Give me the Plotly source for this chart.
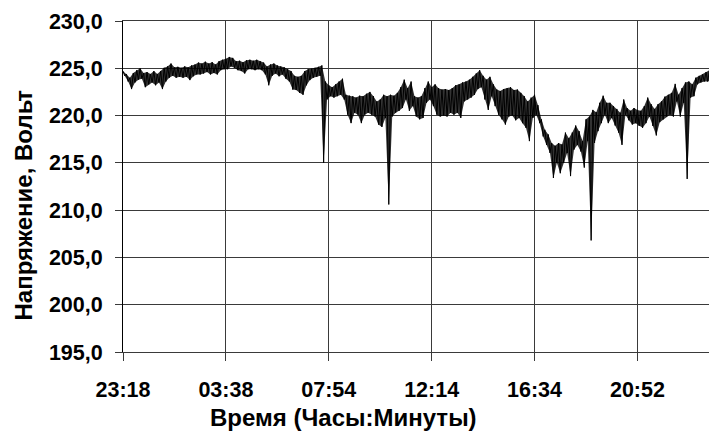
import plotly.graph_objects as go

# Tick labels of the time axis (category labels every 30 samples)
tick_labels = ["23:18", "03:38", "07:54", "12:14", "16:34", "20:52"]
tick_index = [0, 30, 60, 90, 120, 150]

# Voltage readings (V): upper and lower excursion of each sampling column
v_high = [
    224.7, 224.4, 224.0, 224.5, 224.8, 225.0, 224.5, 224.6, 224.4, 224.7,
    224.4, 224.7, 225.05, 225.2, 225.5, 225.1, 225.15, 225.05, 225.2, 225.1,
    225.3, 225.4, 225.6, 225.5, 225.7, 225.5, 225.65, 225.4, 225.75, 225.9,
    226.0, 226.2, 226.1, 225.75, 225.8, 225.65, 225.85, 225.9, 225.8, 225.9,
    225.75, 225.6, 225.2, 225.4, 225.5, 225.3, 225.2, 225.1, 224.9, 224.7,
    224.2, 224.1, 224.2, 224.7, 224.9, 224.95, 225.05, 225.15, 225.3, 223.6,
    223.2, 223.0, 223.3, 223.6, 223.9, 222.2, 222.1, 222.05, 221.9, 222.1,
    222.05, 222.3, 222.5, 222.05, 221.5, 221.7, 222.2, 222.05, 222.2, 222.1,
    222.4, 223.0, 223.8, 222.9, 223.6, 222.05, 221.9, 222.05, 222.9, 223.6,
    223.0, 223.3, 222.9, 222.75, 222.8, 222.7, 222.9, 223.2, 223.3, 223.5,
    223.6, 223.8, 224.1, 224.45, 224.8, 224.2, 223.8, 224.1, 223.3, 222.75,
    222.6, 222.8, 222.9, 223.0, 222.7, 222.75, 222.4, 222.05, 221.5, 221.9,
    222.2, 221.1, 219.6, 218.5, 218.0, 217.1, 216.8, 217.1, 216.95, 218.2,
    217.6, 218.2, 218.95, 218.35, 217.3, 219.6, 219.9, 220.6, 220.35, 221.35,
    222.1, 221.35, 221.35, 221.0, 220.7, 220.3, 221.7, 220.8, 220.5, 220.8,
    220.6, 220.5, 221.0, 221.9, 221.2, 220.7, 221.2, 221.5, 222.0, 222.2,
    222.4, 223.35, 222.2, 222.9, 223.5, 223.6, 223.3, 224.0, 224.2, 224.35,
    224.6, 224.8, 224.6, 224.35,
]
v_low = [
    224.2, 223.6, 222.8, 223.5, 223.8, 223.9, 223.0, 223.3, 223.5, 223.2,
    223.5, 222.8, 223.6, 224.0, 224.2, 224.0, 224.1, 224.0, 224.1, 223.75,
    224.15, 224.35, 224.35, 224.45, 224.6, 224.35, 224.5, 224.35, 224.8, 224.9,
    224.9, 225.2, 225.05, 224.8, 224.7, 224.45, 224.9, 224.9, 224.8, 224.9,
    224.8, 224.35, 223.2, 224.2, 224.45, 224.15, 224.35, 223.9, 223.6, 222.75,
    222.7, 222.4, 222.2, 223.2, 223.75, 224.0, 224.1, 224.2, 215.0, 221.7,
    222.05, 221.9, 222.05, 222.2, 221.7, 220.1, 219.2, 220.3, 220.1, 219.2,
    220.1, 220.3, 220.1, 219.9, 219.05, 218.8, 219.75, 210.6, 219.9, 220.3,
    220.5, 220.8, 221.7, 220.5, 221.0, 219.9, 219.6, 219.75, 221.35, 221.7,
    221.0, 220.1, 219.9, 220.0, 219.9, 220.3, 220.1, 220.3, 219.75, 221.5,
    221.7, 221.9, 222.2, 222.8, 223.0, 221.7, 220.6, 222.05, 221.0, 220.1,
    219.6, 219.05, 219.9, 220.0, 219.5, 219.75, 219.2, 218.7, 217.3, 219.75,
    220.1, 219.2, 217.8, 216.9, 216.05, 213.4, 215.0, 213.9, 215.0, 216.05,
    213.6, 216.4, 216.9, 216.2, 214.5, 217.3, 206.8, 217.1, 218.35, 219.2,
    220.1, 219.2, 219.75, 218.95, 218.2, 216.9, 220.1, 219.5, 219.05, 219.2,
    218.9, 218.7, 219.2, 219.9, 218.9, 217.9, 219.3, 219.6, 219.9, 220.1,
    219.9, 221.5, 219.9, 221.35, 213.3, 221.9, 222.05, 223.3, 223.5, 223.6,
    223.6, 223.8, 223.4, 223.2,
]

y_ticks = [195, 200, 205, 210, 215, 220, 225, 230]

idx_hi = list(range(len(v_high)))
idx_lo = [i + 0.5 for i in range(len(v_low))]

xs, ys = [], []
for i, (h, l) in enumerate(zip(v_high, v_low)):
    xs += [idx_hi[i], idx_lo[i]]
    ys += [h, l]

FONT = "Arial, 'Liberation Sans', sans-serif"
GRID = "#3a3a3a"

fig = go.Figure()
# dense noise band: envelope filled, then the jagged trace on top
fig.add_trace(go.Scatter(
    x=idx_hi, y=v_high, mode="lines", line=dict(color="rgba(0,0,0,0)", width=0),
    hoverinfo="skip", showlegend=False,
))
fig.add_trace(go.Scatter(
    x=idx_lo, y=v_low, mode="lines", line=dict(color="rgba(0,0,0,0)", width=0),
    fill="tonexty", fillcolor="rgba(0,0,0,0.8)",
    hoverinfo="skip", showlegend=False,
))
fig.add_trace(go.Scatter(
    x=xs, y=ys, mode="lines",
    line=dict(color="black", width=1),
    hoverinfo="skip", showlegend=False,
))

# the page body has an 8px offset: figure is 8px smaller, margins shifted
fig.update_layout(
    width=709, height=423,
    margin=dict(l=115, r=0, t=13, b=79, autoexpand=False),
    paper_bgcolor="white", plot_bgcolor="white",
    separators=", ",
    showlegend=False,
    font=dict(family=FONT, color="black"),
)
fig.update_xaxes(
    range=[0, 173.2], automargin=False,
    tickmode="array", tickvals=tick_index, ticktext=tick_labels,
    ticks="outside", ticklen=8, tickcolor=GRID, tickwidth=1,
    ticklabelstandoff=10,
    tickfont=dict(family=FONT, size=21.5, weight="bold", color="black"),
    showgrid=True, gridcolor=GRID, gridwidth=1,
    showline=True, linecolor=GRID, linewidth=1, mirror=True,
    zeroline=False,
)
fig.update_yaxes(
    range=[195, 230], automargin=False,
    tickmode="array", tickvals=y_ticks, tickformat=".1f",
    ticks="outside", ticklen=7, tickcolor=GRID, tickwidth=1,
    ticklabelstandoff=8,
    tickfont=dict(family=FONT, size=21.5, weight="bold", color="black"),
    showgrid=True, gridcolor=GRID, gridwidth=1,
    showline=True, linecolor="black", linewidth=1,
    zeroline=False,
)

fig.add_annotation(
    text="Напряжение, Вольт", textangle=-90,
    xref="paper", yref="paper", x=(22.5 - 123) / 594, y=(352 - 205) / 331,
    xanchor="center", yanchor="middle", showarrow=False,
    font=dict(family=FONT, size=24, weight="bold", color="black"),
)
fig.add_annotation(
    text="Время (Часы:Минуты)",
    xref="paper", yref="paper", x=(343 - 123) / 594, y=(352 - 418) / 331,
    xanchor="center", yanchor="middle", showarrow=False,
    font=dict(family=FONT, size=24, weight="bold", color="black"),
)

fig.write_html("out.html")
